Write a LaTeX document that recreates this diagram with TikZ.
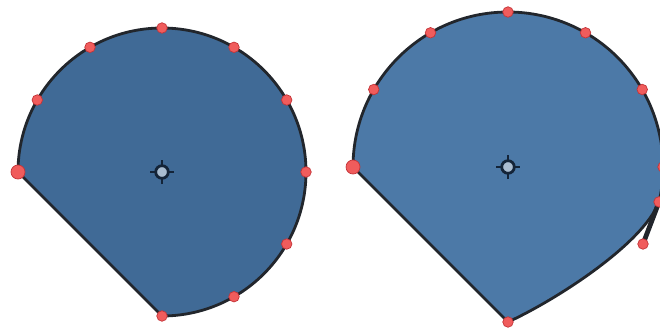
\documentclass[tikz,border=0pt]{standalone}
\usetikzlibrary{calc}
\definecolor{fillL}{RGB}{64,106,150}
\definecolor{fillR}{RGB}{76,121,167}
\definecolor{edge}{RGB}{34,38,44}
\definecolor{dotfill}{RGB}{240,92,92}
\definecolor{dotedge}{RGB}{196,52,56}
\definecolor{cross}{RGB}{20,36,56}
\tikzset{
  shapeline/.style={draw=edge, line width=2.8pt, line join=round},
  ptdot/.style={circle, fill=dotfill, draw=dotedge, line width=0.7pt, inner sep=0pt, minimum size=10.5pt},
  bigdot/.style={ptdot, minimum size=14pt},
  handle/.style={draw=edge, line width=4.8pt, line cap=round},
}
\newcommand{\mycross}[1]{%
  \draw[cross, line width=1.3pt] ($(#1)+(-12,0)$) -- ($(#1)+(12,0)$) ($(#1)+(0,-12)$) -- ($(#1)+(0,12)$);
  \draw[cross, line width=2.8pt, fill=fillL!45!white] (#1) circle[radius=6.3];
}
\begin{document}
\begin{tikzpicture}[x=1pt,y=1pt]
\useasboundingbox (0,0) rectangle (660,327);
\clip (0,0) rectangle (660,327);
% left shape
\coordinate (L) at (162,155);
\path[shapeline, fill=fillL] ($(L)+(180:144)$) arc[start angle=180, end angle=-90, radius=144] -- cycle;
\foreach \a in {150,120,90,60,30,0,-30,-60,-90}
  \node[ptdot] at ($(L)+(\a:144)$) {};
\node[bigdot] at ($(L)+(180:144)$) {};
\mycross{L}
% right shape
\coordinate (R) at (508,160);
\coordinate (RE) at ($(R)+(-13:155)$);
\coordinate (RB) at ($(R)+(-90:155)$);
\coordinate (H) at (643,83);
\path[shapeline, fill=fillR] ($(R)+(180:155)$) arc[start angle=180, end angle=-13, radius=155]
  .. controls (H) and (556,27) .. (RB) -- cycle;
\draw[handle] (RE) -- (H);
\foreach \a in {150,120,90,60,30,0}
  \node[ptdot] at ($(R)+(\a:155)$) {};
\node[ptdot] at (RE) {};
\node[ptdot] at (H) {};
\node[ptdot] at (RB) {};
\node[bigdot] at ($(R)+(180:155)$) {};
\mycross{R}
\end{tikzpicture}
\end{document}
